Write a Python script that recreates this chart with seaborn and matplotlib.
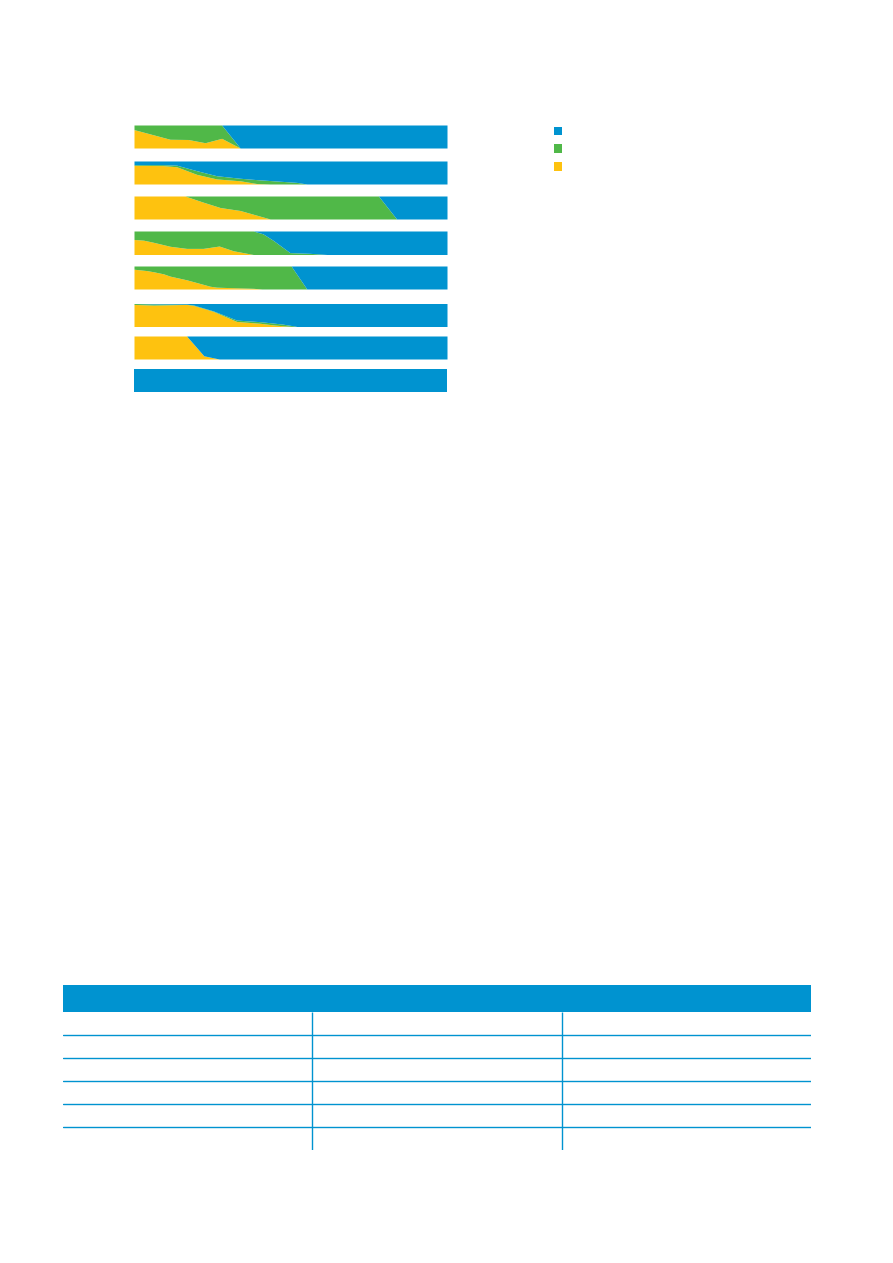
import matplotlib.pyplot as plt
import seaborn as sns
from matplotlib.patches import Patch

# ==========================================
# 1. DATA (share of each bar)
# ==========================================
BLUE = "#0093D0"
GREEN = "#50B848"
YELLOW = "#FEC20F"

x1 = [0, 11.5, 17.3, 22.7, 28, 33.9, 100]
yellow1 = [0.80, 0.38, 0.37, 0.23, 0.42, 0, 0]
green1 = [0.20, 0.62, 0.63, 0.77, 0.58, 0, 0]

x2 = [0, 9.3, 13.6, 20.0, 26.4, 33.9, 39.2, 43.5, 52.0, 55.2, 100]
yellow2 = [0.81, 0.80, 0.75, 0.42, 0.22, 0.14, 0.02, 0, 0, 0, 0]
green2 = [0.03, 0.04, 0.07, 0.16, 0.14, 0.11, 0.17, 0.15, 0.07, 0, 0]

x3 = [0, 16.3, 21.7, 27.5, 33.9, 43.5, 78.1, 83.9, 100]
yellow3 = [1, 1, 0.75, 0.50, 0.37, 0, 0, 0, 0]
green3 = [0, 0, 0.25, 0.50, 0.63, 1, 1, 0, 0]

x4 = [0, 3, 6.2, 11.5, 16.8, 22.1, 27.2, 31.7, 38.1, 41.2, 44.5, 49.8, 56.2, 61.6, 100]
yellow4 = [0.64, 0.61, 0.52, 0.35, 0.26, 0.26, 0.36, 0.16, 0, 0, 0, 0, 0, 0, 0]
green4 = [0.36, 0.39, 0.48, 0.65, 0.74, 0.74, 0.64, 0.84, 1, 0.88, 0.60, 0.08, 0.05, 0, 0]

x5 = [0, 4.1, 6.2, 9.4, 11.5, 16.8, 21.1, 24.3, 26.4, 30.7, 38.1, 40.9, 50.2, 55.2, 100]
yellow5 = [0.86, 0.80, 0.75, 0.66, 0.56, 0.40, 0.24, 0.12, 0.08, 0.06, 0.03, 0, 0, 0, 0]
green5 = [0.14, 0.20, 0.25, 0.34, 0.44, 0.60, 0.76, 0.88, 0.92, 0.94, 0.97, 1, 1, 0, 0]

x6 = [0, 6.2, 16.8, 18.9, 25.3, 32.8, 40.3, 44.5, 47.7, 50.9, 52, 100]
yellow6 = [0.96, 0.93, 0.96, 0.92, 0.66, 0.22, 0.14, 0.07, 0.03, 0, 0, 0]
green6 = [0.04, 0.05, 0.01, 0.02, 0.02, 0.06, 0.07, 0.08, 0.07, 0.03, 0, 0]

x7 = [0, 16.8, 22.3, 27.2, 100]
yellow7 = [1, 1, 0.14, 0, 0]
green7 = [0, 0, 0, 0, 0]

x8 = [0, 100]
yellow8 = [0, 0]
green8 = [0, 0]

strips = [(x1, yellow1, green1), (x2, yellow2, green2), (x3, yellow3, green3),
          (x4, yellow4, green4), (x5, yellow5, green5), (x6, yellow6, green6),
          (x7, yellow7, green7), (x8, yellow8, green8)]

# table: 3 columns, 6 empty body rows
n_cols = 3
n_rows = 6

# ==========================================
# 2. LAYOUT (pixels on the 893x1263 page)
# ==========================================
W, H = 893, 1263
strip_left, strip_right = 134, 447
strip_rows = [(125, 148), (161, 184), (196, 219), (231, 254.5),
              (266, 289), (303.5, 326.5), (336, 359), (369, 392)]

sns.set_theme(style="white")
fig = plt.figure(figsize=(W / 100, H / 100), dpi=100)
fig.patch.set_facecolor("white")

for (top, bottom), (xs, yel, grn) in zip(strip_rows, strips):
    ax = fig.add_axes([strip_left / W, 1 - bottom / H,
                       (strip_right - strip_left) / W, (bottom - top) / H])
    blu = [1 - a - b for a, b in zip(yel, grn)]
    ax.stackplot(xs, yel, grn, blu, colors=[YELLOW, GREEN, BLUE],
                 linewidth=0, antialiased=True)
    ax.set_xlim(0, 100)
    ax.set_ylim(0, 1)
    ax.axis("off")

# legend squares (no labels in the reference)
handles = [Patch(facecolor=c, edgecolor="none") for c in [BLUE, GREEN, YELLOW]]
fig.legend(handles, ["", "", ""], loc="upper left",
           bbox_to_anchor=(548 / W, 1 - 119 / H), frameon=False,
           fontsize=9, handlelength=0.65, handleheight=0.65,
           labelspacing=0.38, borderpad=0, handletextpad=0.2)

# ==========================================
# 3. TABLE
# ==========================================
t_left, t_right, t_top, t_bottom = 63, 811, 985, 1150
header_h = 27 / 23
axt = fig.add_axes([t_left / W, 1 - t_bottom / H,
                    (t_right - t_left) / W, (t_bottom - t_top) / H])
axt.set_xlim(0, n_cols)
axt.set_ylim(n_rows, -header_h)
axt.axhspan(-header_h, 0, color=BLUE, linewidth=0)
for i in range(1, n_rows):
    axt.axhline(i, color=BLUE, linewidth=1.0)
axt.vlines(range(1, n_cols), 0, n_rows, color=BLUE, linewidth=1.0)
axt.axis("off")

plt.savefig("out.png", dpi=100, facecolor="white")
plt.close()
